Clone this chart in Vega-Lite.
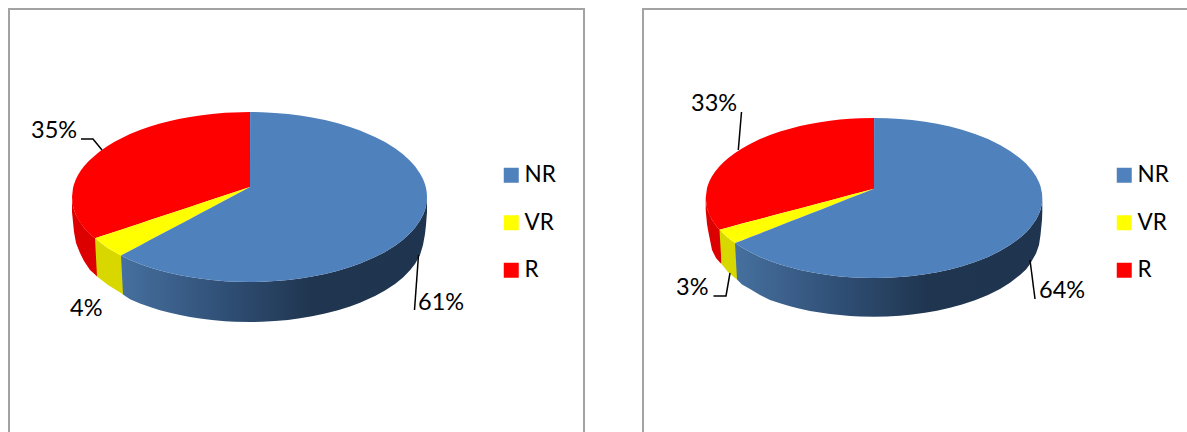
{
"$schema":"https://vega.github.io/schema/vega-lite/v6.json",
"padding":{"left":5,"top":5,"right":0,"bottom":0},
"background":"white",
"spacing":51,
"resolve":{"scale":{"color":"independent"},"legend":{"color":"independent"}},
"config":{"view":{"stroke":null},"font":"Lato"},
"datasets":{
"pie":[
{"c":"A","p":"wallR","x":72,"y":197,"y2":212},{"c":"A","p":"wallR","x":73,"y":206,"y2":222},{"c":"A","p":"wallR","x":74,"y":209.7,"y2":232},{"c":"A","p":"wallR","x":76,"y":215,"y2":243},{"c":"A","p":"wallR","x":80,"y":222,"y2":253},{"c":"A","p":"wallR","x":84,"y":227.7,"y2":261},{"c":"A","p":"wallR","x":90,"y":234,"y2":270},{"c":"A","p":"wallR","x":95,"y":238.3,"y2":274.5},{"c":"A","p":"wallR","x":97,"y":240,"y2":276.5},
{"c":"A","p":"wallV","x":95,"y":238.3,"y2":238.3},{"c":"A","p":"wallV","x":97,"y":240,"y2":276.5},{"c":"A","p":"wallV","x":108,"y":248.3,"y2":285},{"c":"A","p":"wallV","x":121,"y":255.5,"y2":293},{"c":"A","p":"wallV","x":123,"y":256.6,"y2":294.5},
{"c":"A","p":"wallN","x":121,"y":255.5,"y2":255.5},{"c":"A","p":"wallN","x":123,"y":256.6,"y2":294.5},{"c":"A","p":"wallN","x":130,"y":259.9,"y2":299.3},{"c":"A","p":"wallN","x":140,"y":263.9,"y2":303.5},{"c":"A","p":"wallN","x":150,"y":267.4,"y2":307.1},{"c":"A","p":"wallN","x":160,"y":270.4,"y2":310.2},{"c":"A","p":"wallN","x":170,"y":273,"y2":312.8},{"c":"A","p":"wallN","x":180,"y":275.2,"y2":315.1},{"c":"A","p":"wallN","x":190,"y":277,"y2":317},{"c":"A","p":"wallN","x":200,"y":278.6,"y2":318.6},{"c":"A","p":"wallN","x":212,"y":280,"y2":320},{"c":"A","p":"wallN","x":225,"y":281.2,"y2":321.2},{"c":"A","p":"wallN","x":235,"y":281.7,"y2":321.7},{"c":"A","p":"wallN","x":250,"y":282,"y2":322},{"c":"A","p":"wallN","x":262,"y":281.8,"y2":321.8},{"c":"A","p":"wallN","x":275,"y":281.1,"y2":321},{"c":"A","p":"wallN","x":288,"y":280,"y2":319.9},{"c":"A","p":"wallN","x":300,"y":278.5,"y2":318.3},{"c":"A","p":"wallN","x":312,"y":276.6,"y2":316.3},{"c":"A","p":"wallN","x":325,"y":273.9,"y2":313.5},{"c":"A","p":"wallN","x":338,"y":270.7,"y2":310.2},{"c":"A","p":"wallN","x":350,"y":267,"y2":306.4},{"c":"A","p":"wallN","x":360,"y":263.5,"y2":302.7},{"c":"A","p":"wallN","x":375,"y":257.1,"y2":296},{"c":"A","p":"wallN","x":385,"y":251.9,"y2":290.5},{"c":"A","p":"wallN","x":395,"y":245.7,"y2":283.9},{"c":"A","p":"wallN","x":403,"y":239.7,"y2":277.4},{"c":"A","p":"wallN","x":410,"y":233.3,"y2":270.3},{"c":"A","p":"wallN","x":415,"y":227.7,"y2":263.9},{"c":"A","p":"wallN","x":420,"y":220.6,"y2":255},{"c":"A","p":"wallN","x":423,"y":214.9,"y2":245},{"c":"A","p":"wallN","x":425,"y":209.7,"y2":234},{"c":"A","p":"wallN","x":426,"y":206,"y2":225},{"c":"A","p":"wallN","x":427,"y":197,"y2":212},
{"c":"A","p":"R","x":72,"y":197,"y2":197},{"c":"A","p":"R","x":73,"y":188,"y2":206},{"c":"A","p":"R","x":74,"y":184.3,"y2":209.7},{"c":"A","p":"R","x":76,"y":179.1,"y2":214.9},{"c":"A","p":"R","x":78,"y":175.1,"y2":218.9},{"c":"A","p":"R","x":81,"y":170.3,"y2":223.7},{"c":"A","p":"R","x":84,"y":166.3,"y2":227.7},{"c":"A","p":"R","x":89,"y":160.7,"y2":233.3},{"c":"A","p":"R","x":95,"y":155.5,"y2":238.3},{"c":"A","p":"R","x":100,"y":151.2,"y2":236.6},{"c":"A","p":"R","x":108,"y":145.7,"y2":234},{"c":"A","p":"R","x":115,"y":141.5,"y2":231.7},{"c":"A","p":"R","x":122,"y":137.9,"y2":229.4},{"c":"A","p":"R","x":130,"y":134.1,"y2":226.7},{"c":"A","p":"R","x":140,"y":130.1,"y2":223.4},{"c":"A","p":"R","x":150,"y":126.6,"y2":220.1},{"c":"A","p":"R","x":160,"y":123.6,"y2":216.8},{"c":"A","p":"R","x":170,"y":121,"y2":213.5},{"c":"A","p":"R","x":180,"y":118.8,"y2":210.2},{"c":"A","p":"R","x":190,"y":117,"y2":206.9},{"c":"A","p":"R","x":200,"y":115.4,"y2":203.5},{"c":"A","p":"R","x":212,"y":114,"y2":199.6},{"c":"A","p":"R","x":225,"y":112.8,"y2":195.3},{"c":"A","p":"R","x":250,"y":112,"y2":187},
{"c":"A","p":"VR","x":95,"y":238.3,"y2":238.3},{"c":"A","p":"VR","x":108,"y":234,"y2":248.3},{"c":"A","p":"VR","x":121,"y":229.7,"y2":255.5},{"c":"A","p":"VR","x":140,"y":223.4,"y2":245.4},{"c":"A","p":"VR","x":160,"y":216.8,"y2":234.8},{"c":"A","p":"VR","x":180,"y":210.2,"y2":224.2},{"c":"A","p":"VR","x":200,"y":203.5,"y2":213.6},{"c":"A","p":"VR","x":225,"y":195.3,"y2":200.3},{"c":"A","p":"VR","x":250,"y":187,"y2":187},
{"c":"A","p":"NR","x":121,"y":255.5,"y2":255.5},{"c":"A","p":"NR","x":130,"y":250.7,"y2":259.9},{"c":"A","p":"NR","x":140,"y":245.4,"y2":263.9},{"c":"A","p":"NR","x":150,"y":240.1,"y2":267.4},{"c":"A","p":"NR","x":160,"y":234.8,"y2":270.4},{"c":"A","p":"NR","x":170,"y":229.5,"y2":273},{"c":"A","p":"NR","x":180,"y":224.2,"y2":275.2},{"c":"A","p":"NR","x":190,"y":218.9,"y2":277},{"c":"A","p":"NR","x":200,"y":213.6,"y2":278.6},{"c":"A","p":"NR","x":212,"y":207.2,"y2":280},{"c":"A","p":"NR","x":225,"y":200.3,"y2":281.2},{"c":"A","p":"NR","x":235,"y":195,"y2":281.7},{"c":"A","p":"NR","x":250,"y":187,"y2":282},{"c":"A","p":"NR","x":250.1,"y":112,"y2":282},{"c":"A","p":"NR","x":262,"y":112.2,"y2":281.8},{"c":"A","p":"NR","x":275,"y":112.9,"y2":281.1},{"c":"A","p":"NR","x":288,"y":114,"y2":280},{"c":"A","p":"NR","x":300,"y":115.5,"y2":278.5},{"c":"A","p":"NR","x":312,"y":117.4,"y2":276.6},{"c":"A","p":"NR","x":325,"y":120.1,"y2":273.9},{"c":"A","p":"NR","x":338,"y":123.3,"y2":270.7},{"c":"A","p":"NR","x":350,"y":127,"y2":267},{"c":"A","p":"NR","x":360,"y":130.5,"y2":263.5},{"c":"A","p":"NR","x":375,"y":136.9,"y2":257.1},{"c":"A","p":"NR","x":385,"y":142.1,"y2":251.9},{"c":"A","p":"NR","x":395,"y":148.3,"y2":245.7},{"c":"A","p":"NR","x":403,"y":154.3,"y2":239.7},{"c":"A","p":"NR","x":410,"y":160.7,"y2":233.3},{"c":"A","p":"NR","x":415,"y":166.3,"y2":227.7},{"c":"A","p":"NR","x":420,"y":173.4,"y2":220.6},{"c":"A","p":"NR","x":423,"y":179.1,"y2":214.9},{"c":"A","p":"NR","x":425,"y":184.3,"y2":209.7},{"c":"A","p":"NR","x":426,"y":188,"y2":206},{"c":"A","p":"NR","x":426.7,"y":192,"y2":202},{"c":"A","p":"NR","x":427,"y":197,"y2":197},

{"c":"B","p":"wallR","x":705.7,"y":198,"y2":210},{"c":"B","p":"wallR","x":707,"y":207.9,"y2":224},{"c":"B","p":"wallR","x":708,"y":211.2,"y2":230},{"c":"B","p":"wallR","x":712,"y":219.7,"y2":250},{"c":"B","p":"wallR","x":716,"y":225.6,"y2":258},{"c":"B","p":"wallR","x":719.5,"y":229.7,"y2":262},{"c":"B","p":"wallR","x":721.5,"y":231.7,"y2":264},
{"c":"B","p":"wallV","x":719.5,"y":229.7,"y2":229.7},{"c":"B","p":"wallV","x":721.5,"y":231.7,"y2":264},{"c":"B","p":"wallV","x":728,"y":237.8,"y2":272},{"c":"B","p":"wallV","x":735,"y":243.1,"y2":278},{"c":"B","p":"wallV","x":737,"y":244.2,"y2":279.5},
{"c":"B","p":"wallN","x":735,"y":243.1,"y2":243.1},{"c":"B","p":"wallN","x":737,"y":244.2,"y2":279.5},{"c":"B","p":"wallN","x":742,"y":247.6,"y2":284.5},{"c":"B","p":"wallN","x":750,"y":252.1,"y2":289},{"c":"B","p":"wallN","x":760,"y":256.9,"y2":295},{"c":"B","p":"wallN","x":770,"y":260.9,"y2":300},{"c":"B","p":"wallN","x":780,"y":264.4,"y2":303.3},{"c":"B","p":"wallN","x":790,"y":267.3,"y2":306.2},{"c":"B","p":"wallN","x":800,"y":269.9,"y2":308.7},{"c":"B","p":"wallN","x":810,"y":272,"y2":311},{"c":"B","p":"wallN","x":820,"y":273.8,"y2":312.6},{"c":"B","p":"wallN","x":830,"y":275.2,"y2":314},{"c":"B","p":"wallN","x":840,"y":276.4,"y2":315.1},{"c":"B","p":"wallN","x":850,"y":277.2,"y2":316},{"c":"B","p":"wallN","x":860,"y":277.7,"y2":316.5},{"c":"B","p":"wallN","x":874,"y":278,"y2":316.7},{"c":"B","p":"wallN","x":887,"y":277.7,"y2":316.4},{"c":"B","p":"wallN","x":900,"y":277,"y2":315.7},{"c":"B","p":"wallN","x":912,"y":275.9,"y2":314.5},{"c":"B","p":"wallN","x":925,"y":274.2,"y2":312.7},{"c":"B","p":"wallN","x":937,"y":272.2,"y2":310.7},{"c":"B","p":"wallN","x":950,"y":269.4,"y2":307.7},{"c":"B","p":"wallN","x":962,"y":266.2,"y2":304.5},{"c":"B","p":"wallN","x":975,"y":262,"y2":300.2},{"c":"B","p":"wallN","x":988,"y":256.9,"y2":294.9},{"c":"B","p":"wallN","x":1000,"y":251,"y2":288.9},{"c":"B","p":"wallN","x":1010,"y":245.1,"y2":282.7},{"c":"B","p":"wallN","x":1020,"y":237.8,"y2":274.9},{"c":"B","p":"wallN","x":1026,"y":232.4,"y2":269.5},{"c":"B","p":"wallN","x":1030,"y":228,"y2":264},{"c":"B","p":"wallN","x":1036,"y":219.7,"y2":253.5},{"c":"B","p":"wallN","x":1039,"y":213.8,"y2":245},{"c":"B","p":"wallN","x":1040.5,"y":209.7,"y2":235},{"c":"B","p":"wallN","x":1042,"y":202.8,"y2":220},{"c":"B","p":"wallN","x":1042.3,"y":198,"y2":212},
{"c":"B","p":"R","x":705.7,"y":198,"y2":198},{"c":"B","p":"R","x":707,"y":188.1,"y2":207.9},{"c":"B","p":"R","x":708,"y":184.8,"y2":211.2},{"c":"B","p":"R","x":709.5,"y":181.1,"y2":214.9},{"c":"B","p":"R","x":712,"y":176.3,"y2":219.7},{"c":"B","p":"R","x":715,"y":171.8,"y2":224.2},{"c":"B","p":"R","x":719.5,"y":166.3,"y2":229.7},{"c":"B","p":"R","x":724,"y":161.7,"y2":228.5},{"c":"B","p":"R","x":728,"y":158.2,"y2":227.4},{"c":"B","p":"R","x":735,"y":152.9,"y2":225.6},{"c":"B","p":"R","x":742,"y":148.4,"y2":223.6},{"c":"B","p":"R","x":750,"y":143.9,"y2":221.6},{"c":"B","p":"R","x":760,"y":139.1,"y2":218.9},{"c":"B","p":"R","x":770,"y":135.1,"y2":216.3},{"c":"B","p":"R","x":780,"y":131.6,"y2":213.6},{"c":"B","p":"R","x":790,"y":128.7,"y2":211},{"c":"B","p":"R","x":800,"y":126.1,"y2":208.4},{"c":"B","p":"R","x":810,"y":124,"y2":205.7},{"c":"B","p":"R","x":820,"y":122.2,"y2":203.1},{"c":"B","p":"R","x":830,"y":120.8,"y2":200.4},{"c":"B","p":"R","x":840,"y":119.6,"y2":197.8},{"c":"B","p":"R","x":850,"y":118.8,"y2":195.1},{"c":"B","p":"R","x":860,"y":118.3,"y2":192.5},{"c":"B","p":"R","x":874,"y":118,"y2":188.7},
{"c":"B","p":"VR","x":719.5,"y":229.7,"y2":229.7},{"c":"B","p":"VR","x":728,"y":227.4,"y2":237.8},{"c":"B","p":"VR","x":735,"y":225.6,"y2":243.1},{"c":"B","p":"VR","x":750,"y":221.6,"y2":237.2},{"c":"B","p":"VR","x":770,"y":216.3,"y2":229.4},{"c":"B","p":"VR","x":790,"y":211,"y2":221.6},{"c":"B","p":"VR","x":810,"y":205.7,"y2":213.8},{"c":"B","p":"VR","x":830,"y":200.4,"y2":205.9},{"c":"B","p":"VR","x":850,"y":195.1,"y2":198.1},{"c":"B","p":"VR","x":874,"y":188.7,"y2":188.7},
{"c":"B","p":"NR","x":735,"y":243.1,"y2":243.1},{"c":"B","p":"NR","x":742,"y":240.4,"y2":247.6},{"c":"B","p":"NR","x":750,"y":237.2,"y2":252.1},{"c":"B","p":"NR","x":760,"y":233.4,"y2":256.9},{"c":"B","p":"NR","x":770,"y":229.4,"y2":260.9},{"c":"B","p":"NR","x":780,"y":225.5,"y2":264.4},{"c":"B","p":"NR","x":790,"y":221.6,"y2":267.3},{"c":"B","p":"NR","x":800,"y":217.7,"y2":269.9},{"c":"B","p":"NR","x":810,"y":213.8,"y2":272},{"c":"B","p":"NR","x":820,"y":209.9,"y2":273.8},{"c":"B","p":"NR","x":830,"y":205.9,"y2":275.2},{"c":"B","p":"NR","x":840,"y":202.1,"y2":276.4},{"c":"B","p":"NR","x":850,"y":198.1,"y2":277.2},{"c":"B","p":"NR","x":860,"y":194.2,"y2":277.7},{"c":"B","p":"NR","x":874,"y":188.7,"y2":278},{"c":"B","p":"NR","x":874.1,"y":118,"y2":278},{"c":"B","p":"NR","x":887,"y":118.3,"y2":277.7},{"c":"B","p":"NR","x":900,"y":119,"y2":277},{"c":"B","p":"NR","x":912,"y":120.1,"y2":275.9},{"c":"B","p":"NR","x":925,"y":121.8,"y2":274.2},{"c":"B","p":"NR","x":937,"y":123.8,"y2":272.2},{"c":"B","p":"NR","x":950,"y":126.6,"y2":269.4},{"c":"B","p":"NR","x":962,"y":129.8,"y2":266.2},{"c":"B","p":"NR","x":975,"y":134,"y2":262},{"c":"B","p":"NR","x":988,"y":139.1,"y2":256.9},{"c":"B","p":"NR","x":1000,"y":145,"y2":251},{"c":"B","p":"NR","x":1010,"y":150.9,"y2":245.1},{"c":"B","p":"NR","x":1020,"y":158.2,"y2":237.8},{"c":"B","p":"NR","x":1026,"y":163.6,"y2":232.4},{"c":"B","p":"NR","x":1032,"y":170.4,"y2":225.6},{"c":"B","p":"NR","x":1036,"y":176.3,"y2":219.7},{"c":"B","p":"NR","x":1039,"y":182.2,"y2":213.8},{"c":"B","p":"NR","x":1040.5,"y":186.3,"y2":209.7},{"c":"B","p":"NR","x":1042,"y":193.2,"y2":202.8},{"c":"B","p":"NR","x":1042.3,"y":198,"y2":198}
],
"frames":[
{"c":"A","i":0,"x":9,"y":432},{"c":"A","i":1,"x":9,"y":9},{"c":"A","i":2,"x":584,"y":9},{"c":"A","i":3,"x":584,"y":432},
{"c":"B","i":0,"x":643,"y":432},{"c":"B","i":1,"x":643,"y":9},{"c":"B","i":2,"x":1187,"y":9}
],
"leaders":[
{"c":"A","l":"R","i":0,"x":81,"y":139},{"c":"A","l":"R","i":1,"x":93,"y":139},{"c":"A","l":"R","i":2,"x":102,"y":150},
{"c":"A","l":"NR","i":0,"x":418.5,"y":255},{"c":"A","l":"NR","i":1,"x":414.5,"y":310},
{"c":"B","l":"R","i":0,"x":741.5,"y":112},{"c":"B","l":"R","i":1,"x":738.3,"y":150},
{"c":"B","l":"VR","i":0,"x":713.5,"y":296},{"c":"B","l":"VR","i":1,"x":726,"y":296},{"c":"B","l":"VR","i":2,"x":730,"y":273},
{"c":"B","l":"NR","i":0,"x":1030,"y":260},{"c":"B","l":"NR","i":1,"x":1035,"y":299}
],
"labels":[
{"c":"A","t":"35%","x":31,"y":131},{"c":"A","t":"4%","x":70,"y":309},{"c":"A","t":"61%","x":418,"y":303},
{"c":"B","t":"33%","x":691,"y":104},{"c":"B","t":"3%","x":676,"y":288},{"c":"B","t":"64%","x":1039,"y":291}
]
},
"hconcat":[
{
"width":575,"height":423,
"encoding":{
"x":{"field":"x","type":"quantitative","axis":null,"scale":{"domain":[9,584],"nice":false,"zero":false}},
"y":{"field":"y","type":"quantitative","axis":null,"scale":{"domain":[432,9],"nice":false,"zero":false}}
},
"layer":[
{"data":{"name":"frames"},"transform":[{"filter":"datum.c==='A'"}],"mark":{"type":"line","color":"#a3a3a3","strokeWidth":2},"encoding":{"order":{"field":"i"}}},
{"data":{"name":"pie"},"transform":[{"filter":"datum.c==='A'&&datum.p==='wallR'"}],"mark":{"type":"area","color":"#dd0000"},"encoding":{"y2":{"field":"y2"}}},
{"data":{"name":"pie"},"transform":[{"filter":"datum.c==='A'&&datum.p==='wallV'"}],"mark":{"type":"area","color":"#d8d800"},"encoding":{"y2":{"field":"y2"}}},
{"data":{"name":"pie"},"transform":[{"filter":"datum.c==='A'&&datum.p==='wallN'"}],"mark":{"type":"area","color":{"gradient":"linear","x1":0,"y1":0,"x2":1,"y2":0,"stops":[{"offset":0,"color":"#46709f"},{"offset":0.35,"color":"#2f4e74"},{"offset":0.62,"color":"#203650"},{"offset":1,"color":"#1f344e"}]}},"encoding":{"y2":{"field":"y2"}}},
{"data":{"name":"pie"},"transform":[{"filter":"datum.c==='A'&&(datum.p==='NR'||datum.p==='VR'||datum.p==='R')"}],"mark":{"type":"area"},"encoding":{"y2":{"field":"y2"},"color":{"field":"p","type":"nominal","scale":{"domain":["NR","VR","R"],"range":["#4f81bd","#ffff00","#ff0000"]},"legend":{"title":null,"orient":"none","legendX":491,"legendY":155,"padding":0,"symbolType":"square","symbolSize":225,"symbolStrokeWidth":0,"symbolOpacity":1,"labelFont":"Lato","labelFontSize":22.5,"labelColor":"#000000","labelOffset":2,"rowPadding":24.5,"labelLimit":60}}}},
{"data":{"name":"leaders"},"transform":[{"filter":"datum.c==='A'"}],"mark":{"type":"line","color":"#000000","strokeWidth":1.5},"encoding":{"order":{"field":"i"},"detail":{"field":"l"}}},
{"data":{"name":"labels"},"transform":[{"filter":"datum.c==='A'"}],"mark":{"type":"text","align":"left","baseline":"middle","font":"Lato","fontSize":23.5,"color":"#000000"},"encoding":{"text":{"field":"t"}}}
]
},
{
"width":544,"height":423,
"encoding":{
"x":{"field":"x","type":"quantitative","axis":null,"scale":{"domain":[643,1187],"nice":false,"zero":false}},
"y":{"field":"y","type":"quantitative","axis":null,"scale":{"domain":[432,9],"nice":false,"zero":false}}
},
"layer":[
{"data":{"name":"frames"},"transform":[{"filter":"datum.c==='B'"}],"mark":{"type":"line","color":"#a3a3a3","strokeWidth":2},"encoding":{"order":{"field":"i"}}},
{"data":{"name":"pie"},"transform":[{"filter":"datum.c==='B'&&datum.p==='wallR'"}],"mark":{"type":"area","color":"#dd0000"},"encoding":{"y2":{"field":"y2"}}},
{"data":{"name":"pie"},"transform":[{"filter":"datum.c==='B'&&datum.p==='wallV'"}],"mark":{"type":"area","color":"#d8d800"},"encoding":{"y2":{"field":"y2"}}},
{"data":{"name":"pie"},"transform":[{"filter":"datum.c==='B'&&datum.p==='wallN'"}],"mark":{"type":"area","color":{"gradient":"linear","x1":0,"y1":0,"x2":1,"y2":0,"stops":[{"offset":0,"color":"#46709f"},{"offset":0.35,"color":"#2f4e74"},{"offset":0.62,"color":"#203650"},{"offset":1,"color":"#1f344e"}]}},"encoding":{"y2":{"field":"y2"}}},
{"data":{"name":"pie"},"transform":[{"filter":"datum.c==='B'&&(datum.p==='NR'||datum.p==='VR'||datum.p==='R')"}],"mark":{"type":"area"},"encoding":{"y2":{"field":"y2"},"color":{"field":"p","type":"nominal","scale":{"domain":["NR","VR","R"],"range":["#4f81bd","#ffff00","#ff0000"]},"legend":{"title":null,"orient":"none","legendX":470,"legendY":155,"padding":0,"symbolType":"square","symbolSize":225,"symbolStrokeWidth":0,"symbolOpacity":1,"labelFont":"Lato","labelFontSize":22.5,"labelColor":"#000000","labelOffset":2,"rowPadding":24.5,"labelLimit":60}}}},
{"data":{"name":"leaders"},"transform":[{"filter":"datum.c==='B'"}],"mark":{"type":"line","color":"#000000","strokeWidth":1.5},"encoding":{"order":{"field":"i"},"detail":{"field":"l"}}},
{"data":{"name":"labels"},"transform":[{"filter":"datum.c==='B'"}],"mark":{"type":"text","align":"left","baseline":"middle","font":"Lato","fontSize":23.5,"color":"#000000"},"encoding":{"text":{"field":"t"}}}
]
}
]
}
